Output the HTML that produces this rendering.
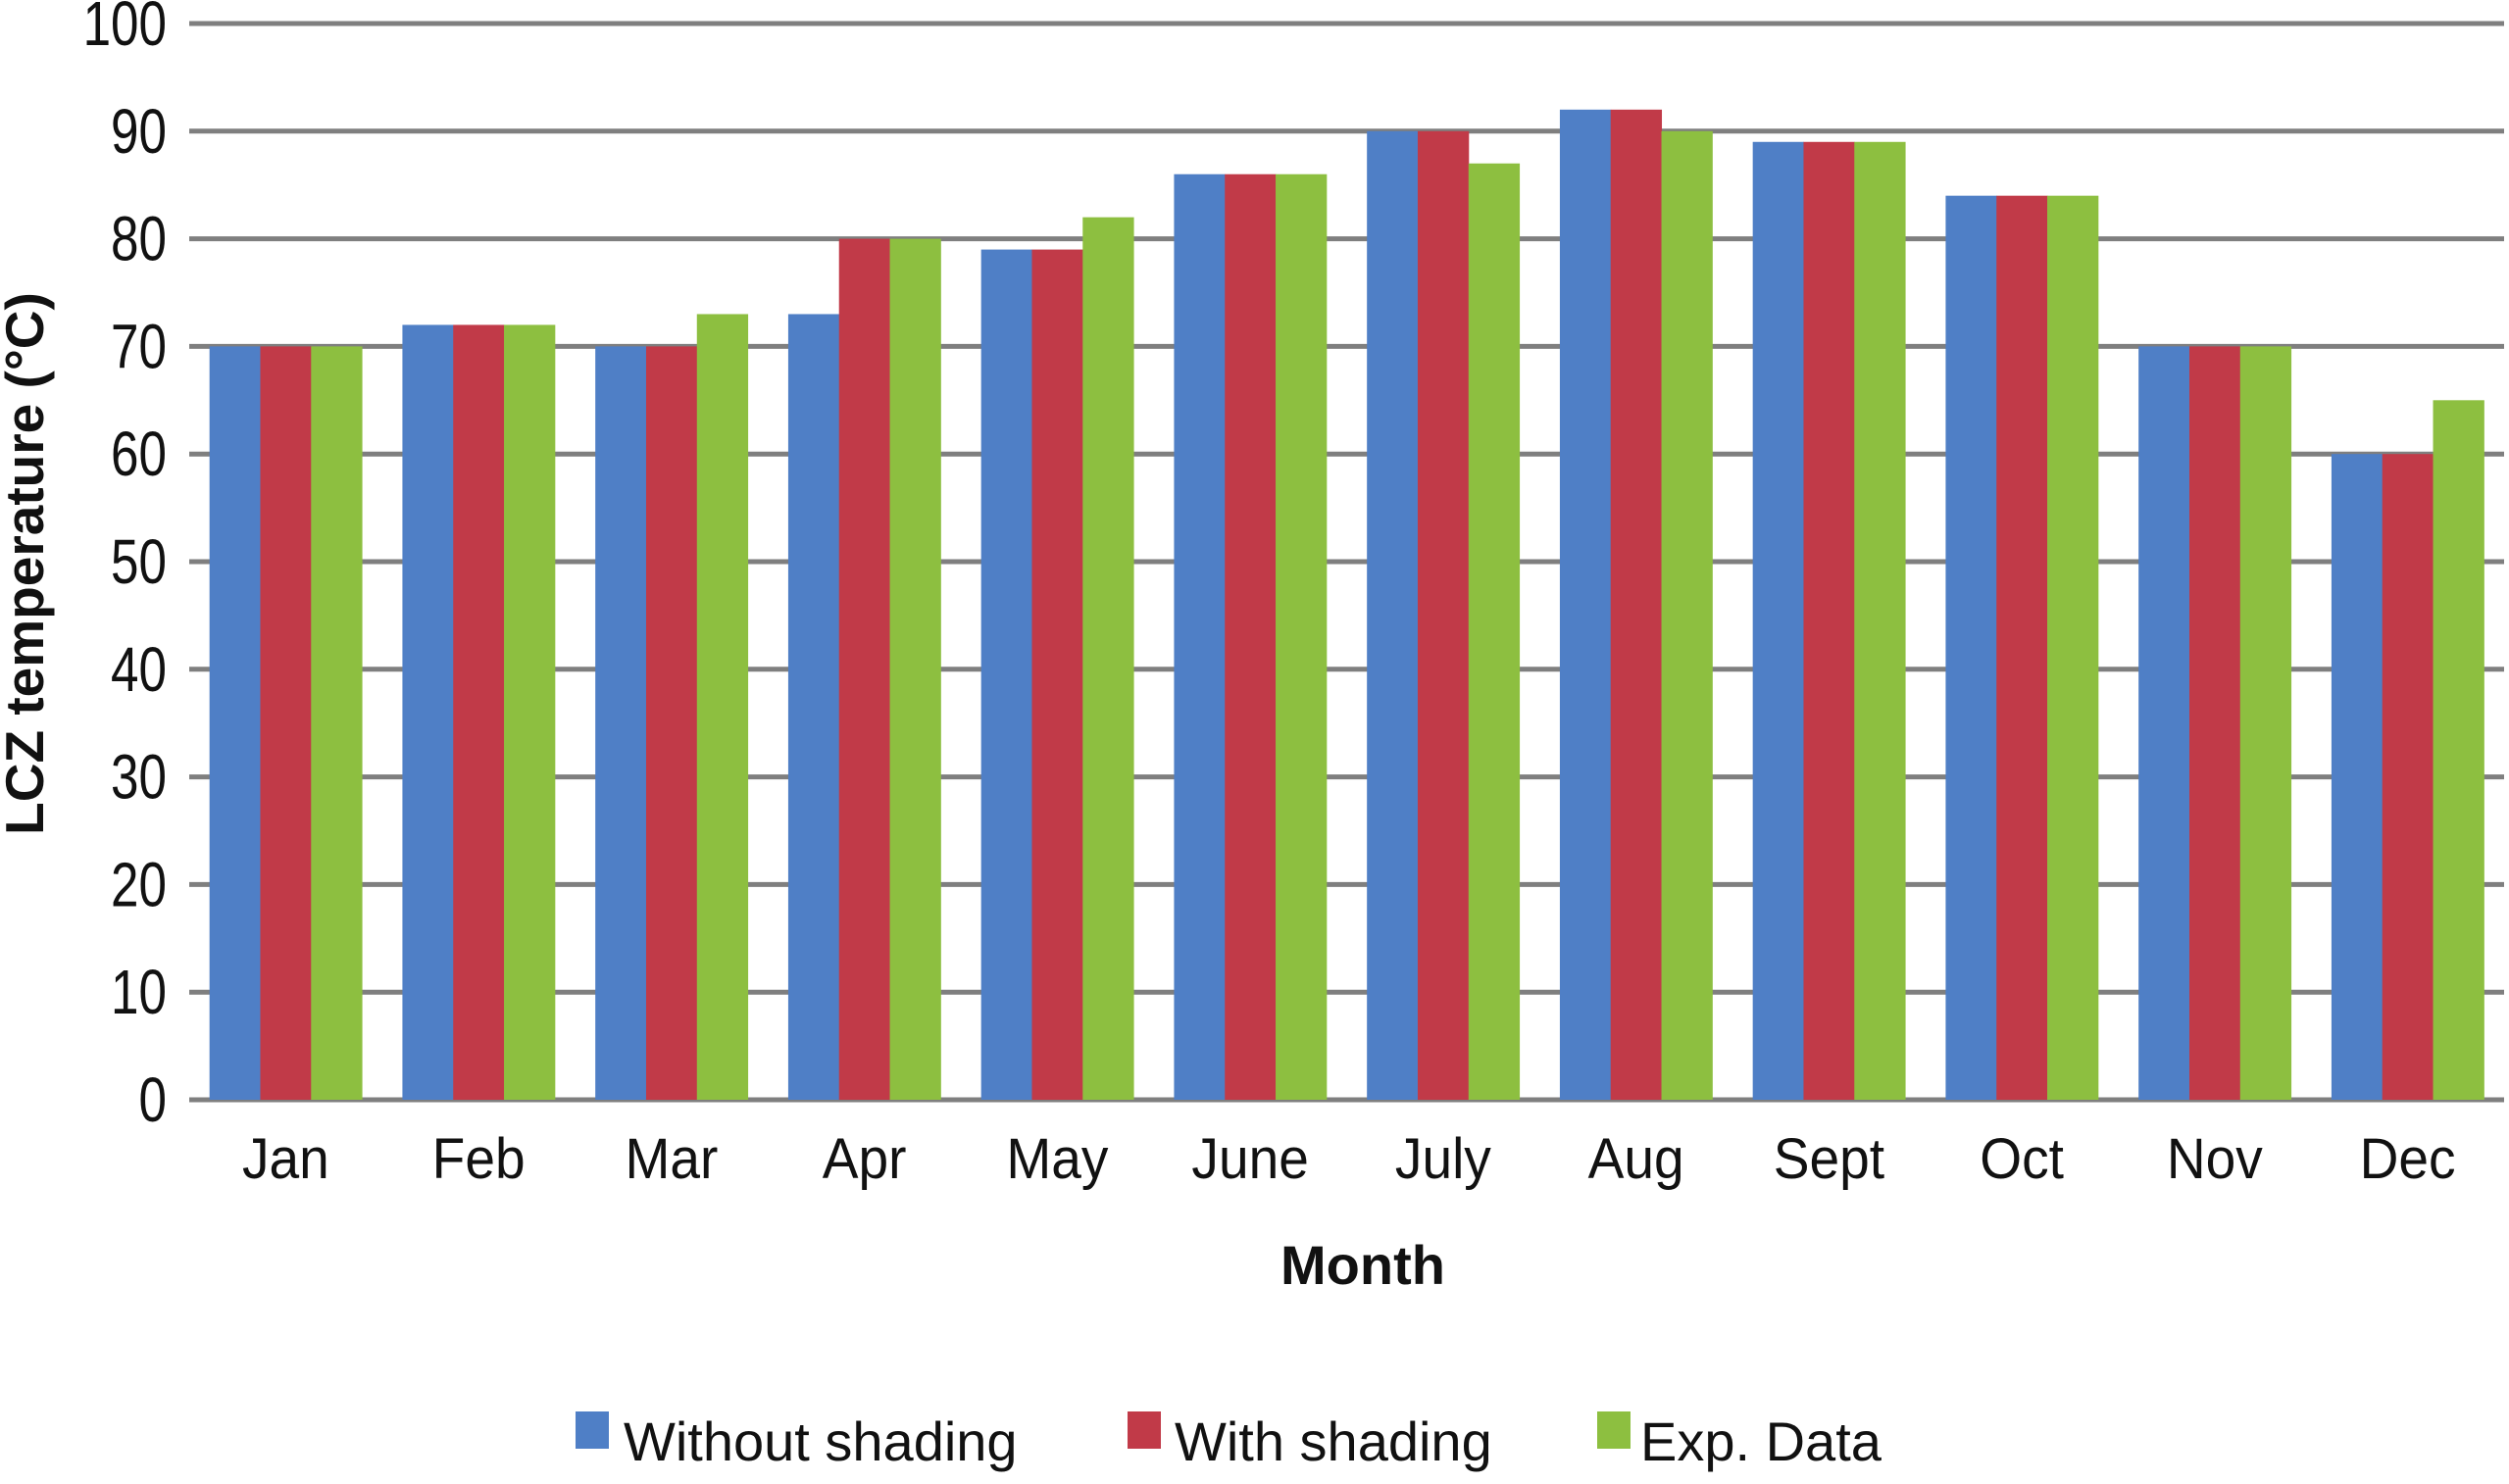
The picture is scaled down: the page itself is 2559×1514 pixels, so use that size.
<!DOCTYPE html>
<html><head><meta charset="utf-8"><style>html,body{margin:0;padding:0;background:#fff}</style></head><body>
<svg width="2559" height="1509" viewBox="0 0 2559 1509" xmlns="http://www.w3.org/2000/svg" font-family="Liberation Sans, sans-serif">
<rect width="2559" height="1509" fill="#fff"/>
<g id="grid" stroke="#7f7f7f" stroke-width="5"></g>
<g id="bars"></g>
<g id="labels" fill="#111"></g>
<text x="1390" y="1310" font-size="56" font-weight="bold" text-anchor="middle" fill="#111">Month</text>
<text transform="translate(44,575) rotate(-90)" font-size="55" font-weight="bold" text-anchor="middle" fill="#111">LCZ temperature (°C)</text>
<rect x="587" y="1440" width="34" height="38" fill="#4f7fc6"/>
<text x="636" y="1490" font-size="56" fill="#111">Without shading</text>
<rect x="1150" y="1440" width="34" height="38" fill="#c13a48"/>
<text x="1198" y="1490" font-size="56" fill="#111">With shading</text>
<rect x="1629" y="1440" width="34" height="38" fill="#8dbf40"/>
<text x="1673" y="1490" font-size="56" fill="#111">Exp. Data</text>
<script>
var ns="http://www.w3.org/2000/svg";
function el(t,a,p,txt){var e=document.createElementNS(ns,t);for(var k in a)e.setAttribute(k,a[k]);if(txt!==undefined)e.textContent=txt;document.getElementById(p).appendChild(e);}
var y0=1122,u=10.98,L=193,R=2554,cw=(R-L)/12,bw=51.8;
for(var i=0;i<=10;i++){var y=y0-i*10*u;el("line",{x1:L,x2:R,y1:y,y2:y},"grid");el("text",{transform:"translate(170,"+(y+22)+") scale(0.8,1)","font-size":64,"text-anchor":"end"},"labels",String(i*10));}
var m=["Jan","Feb","Mar","Apr","May","June","July","Aug","Sept","Oct","Nov","Dec"];
var d=[[70,70,70],[72,72,72],[70,70,73],[73,80,80],[79,79,82],[86,86,86],[90,90,87],[92,92,90],[89,89,89],[84,84,84],[70,70,70],[60,60,65]];
var c=["#4f7fc6","#c13a48","#8dbf40"];
for(var j=0;j<12;j++){var cx=L+cw*(j+0.5);
for(var s=0;s<3;s++){var v=d[j][s];el("rect",{x:cx-1.5*bw+s*bw,y:y0-v*u,width:bw+0.5,height:v*u,fill:c[s]},"bars");}
el("text",{transform:"translate("+cx+",1202) scale(0.95,1)","font-size":58,"text-anchor":"middle"},"labels",m[j]);}
</script>
</svg>
</body></html>
